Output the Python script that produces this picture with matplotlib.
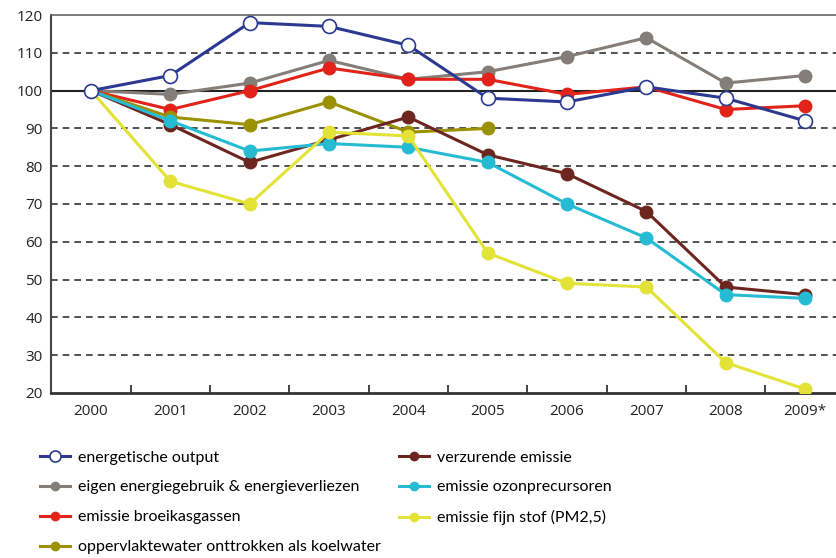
import matplotlib.pyplot as plt
from matplotlib.lines import Line2D

plt.rcParams['font.family'] = ['Open Sans', 'DejaVu Sans']

jaren = ["2000", "2001", "2002", "2003", "2004", "2005", "2006", "2007", "2008", "2009*"]

energetische_output = [100, 104, 118, 117, 112, 98, 97, 101, 98, 92]
eigen_gebruik = [100, 99, 102, 108, 103, 105, 109, 114, 102, 104]
broeikasgassen = [100, 95, 100, 106, 103, 103, 99, 101, 95, 96]
koelwater = [100, 93, 91, 97, 89, 90]
verzurend = [100, 91, 81, 87, 93, 83, 78, 68, 48, 46]
ozonprecursoren = [100, 92, 84, 86, 85, 81, 70, 61, 46, 45]
fijn_stof = [100, 76, 70, 89, 88, 57, 49, 48, 28, 21]

reeksen = [
    ("energetische output", energetische_output, "#2b3990", True),
    ("eigen energiegebruik & energieverliezen", eigen_gebruik, "#847d78", False),
    ("emissie broeikasgassen", broeikasgassen, "#e2231a", False),
    ("oppervlaktewater onttrokken als koelwater", koelwater, "#9c9100", False),
    ("verzurende emissie", verzurend, "#6d2520", False),
    ("emissie ozonprecursoren", ozonprecursoren, "#25bcd3", False),
    ("emissie fijn stof (PM2,5)", fijn_stof, "#e3e236", False),
]

fig = plt.figure(figsize=(8.36, 5.58), dpi=100)
ax = fig.add_axes([0.061, 0.296, 0.939, 0.677])

# gestippelde hulplijnen
for y in [30, 40, 50, 60, 70, 80, 90, 110]:
    ax.axhline(y, color="#333333", lw=1.2, ls=(0, (4, 3)), zorder=1)
ax.axhline(100, color="#222222", lw=1.5, zorder=1)

# tekenvolgorde: onderste eerst
volgorde = [6, 5, 4, 3, 1, 2, 0]
for i in volgorde:
    naam, waarden, kleur, open_punt = reeksen[i]
    x = list(range(len(waarden)))
    if open_punt:
        ax.plot(x, waarden, color=kleur, lw=2.2, marker="o", ms=10,
                mfc="white", mec=kleur, mew=1.2, zorder=10)
    else:
        ax.plot(x, waarden, color=kleur, lw=2.2, marker="o", ms=9,
                mec=kleur, zorder=3 + i)

ax.set_xlim(-0.505, 9.39)
ax.set_ylim(20, 120)
ax.set_yticks(range(20, 121, 10))
ax.set_xticks(range(len(jaren)))
ax.set_xticklabels(jaren)
ax.tick_params(axis="both", length=0, labelsize=11, colors="#222222", pad=8)
ax.tick_params(axis="y", pad=6)

# streepjes tussen de jaren
for b in range(len(jaren)):
    ax.plot([b + 0.5, b + 0.5], [20, 22.2], color="#333333", lw=1.3,
            solid_capstyle="butt", clip_on=False, zorder=6)

ax.spines["right"].set_visible(False)
ax.spines["top"].set_color("#666666")
ax.spines["top"].set_linewidth(1.2)
ax.spines["left"].set_color("#444444")
ax.spines["left"].set_linewidth(1.5)
ax.spines["bottom"].set_color("#333333")
ax.spines["bottom"].set_linewidth(2)

handles = []
for naam, waarden, kleur, open_punt in reeksen:
    if open_punt:
        h = Line2D([], [], color=kleur, lw=2.2, marker="o", ms=8, mfc="white", mec=kleur, mew=1.2)
    else:
        h = Line2D([], [], color=kleur, lw=2.2, marker="o", ms=6, mec=kleur)
    handles.append(h)

fig.legend(handles, [r[0] for r in reeksen], ncol=2, frameon=False,
           loc="upper left", bbox_to_anchor=(0.038, 0.207),
           prop={"family": ["Lato", "DejaVu Sans"], "size": 11.5},
           handlelength=1.9, handletextpad=0.5, columnspacing=1.1,
           labelspacing=0.98, borderpad=0)

fig.savefig("out.png", dpi=100)
